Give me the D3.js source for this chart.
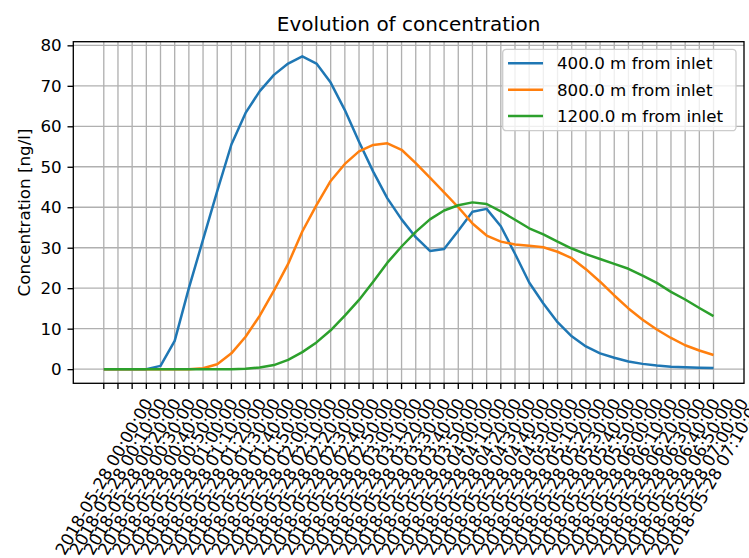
<!DOCTYPE html>
<html>
<head>
<meta charset="utf-8">
<script src="https://cdn.jsdelivr.net/npm/d3@7"></script>
<style>
  body { margin: 0; background: #fff; }
  svg { display: block; font-family: "DejaVu Sans", sans-serif; }
</style>
</head>
<body>
<div id="chart"></div>
<script>
const day = "2018-05-28";
const times = [
  "00:00", "00:10", "00:20", "00:30", "00:40", "00:50",
  "01:00", "01:10", "01:20", "01:30", "01:40", "01:50",
  "02:00", "02:10", "02:20", "02:30", "02:40", "02:50",
  "03:00", "03:10", "03:20", "03:30", "03:40", "03:50",
  "04:00", "04:10", "04:20", "04:30", "04:40", "04:50",
  "05:00", "05:10", "05:20", "05:30", "05:40", "05:50",
  "06:00", "06:10", "06:20", "06:30", "06:40", "06:50",
  "07:00", "07:10"
];

const at400 = [
  0, 0, 0, 0, 0.8, 7, 20, 32, 44, 55.5,
  63.3, 68.7, 72.7, 75.5, 77.3, 75.5, 70.8, 64, 56.2, 48.8,
  42.2, 37, 32.6, 29.2, 29.7, 34.2, 38.9, 39.6, 35.3, 28.5,
  21.4, 16.2, 11.6, 8.1, 5.6, 3.9, 2.8, 1.9, 1.3, 0.9,
  0.6, 0.45, 0.35, 0.3
];
const at800 = [
  0, 0, 0, 0, 0, 0, 0, 0.2, 1.2, 3.9,
  8, 13.2, 19.4, 26, 34, 40.5, 46.5, 50.7, 53.8, 55.4,
  55.8, 54.2, 50.9, 47.3, 43.7, 40, 36, 33, 31.5, 30.8,
  30.5, 30.1, 29, 27.4, 24.7, 21.6, 18.2, 15, 12.2, 9.8,
  7.7, 5.9, 4.6, 3.5
];
const at1200 = [
  0, 0, 0, 0, 0, 0, 0, 0, 0, 0,
  0.1, 0.4, 1.0, 2.3, 4.2, 6.6, 9.6, 13.2, 17.1, 21.6,
  26.3, 30.3, 33.9, 37, 39.2, 40.5, 41.2, 40.8, 39, 36.9,
  34.8, 33.3, 31.5, 29.8, 28.4, 27.2, 26, 24.8, 23.1, 21.3,
  19.1, 17.2, 15.1, 13.1
];

const seriesNames = ["400.0 m from inlet", "800.0 m from inlet", "1200.0 m from inlet"];
const seriesColors = ["#1f77b4", "#ff7f0e", "#2ca02c"];
const yTicks = [0, 10, 20, 30, 40, 50, 60, 70, 80];

const width = 749, height = 558;
const margin = { top: 41.7, right: 5, bottom: 174.7, left: 73.3 };
const plotW = width - margin.left - margin.right;
const plotH = height - margin.top - margin.bottom;
const fs = 16.7;

const parse = d3.utcParse("%Y-%m-%d %H:%M");
const fmt = d3.utcFormat("%Y-%m-%d %H:%M:%S");
const dates = times.map(t => parse(day + " " + t));

const series = [at400, at800, at1200].map((vals, k) => ({
  name: seriesNames[k],
  color: seriesColors[k],
  values: vals.map((v, i) => ({ date: dates[i], value: v }))
}));

// matplotlib style 5% margins on x
const t0 = +dates[0], t1 = +dates[dates.length - 1];
const pad = 0.05 * (t1 - t0);
const x = d3.scaleUtc()
  .domain([new Date(t0 - pad), new Date(t1 + pad)])
  .range([0, plotW]);

const y = d3.scaleLinear()
  .domain([-3.5, 80.9])
  .range([plotH, 0]);

const svg = d3.select("#chart")
  .append("svg")
  .attr("width", width)
  .attr("height", height);

const g = svg.append("g")
  .attr("transform", "translate(" + margin.left + "," + margin.top + ")");

// grid
g.append("g")
  .selectAll("line")
  .data(dates)
  .join("line")
  .attr("x1", d => x(d)).attr("x2", d => x(d))
  .attr("y1", 0).attr("y2", plotH)
  .attr("stroke", "#b0b0b0")
  .attr("stroke-width", 1.33);

g.append("g")
  .selectAll("line")
  .data(yTicks)
  .join("line")
  .attr("x1", 0).attr("x2", plotW)
  .attr("y1", d => y(d)).attr("y2", d => y(d))
  .attr("stroke", "#b0b0b0")
  .attr("stroke-width", 1.33);

// lines
const line = d3.line()
  .x(d => x(d.date))
  .y(d => y(d.value));

g.append("g")
  .selectAll("path")
  .data(series)
  .join("path")
  .attr("d", d => line(d.values))
  .attr("fill", "none")
  .attr("stroke", d => d.color)
  .attr("stroke-width", 2.5)
  .attr("stroke-linejoin", "round")
  .attr("stroke-linecap", "butt");

// spines
g.append("rect")
  .attr("width", plotW)
  .attr("height", plotH)
  .attr("fill", "none")
  .attr("stroke", "#000")
  .attr("stroke-width", 1.33);

// y axis
const yAxis = g.append("g")
  .call(d3.axisLeft(y).tickValues(yTicks).tickSize(5.8).tickPadding(5.8));
yAxis.select(".domain").remove();
yAxis.selectAll(".tick line").attr("stroke", "#000").attr("stroke-width", 1.33);
yAxis.selectAll(".tick text")
  .attr("font-size", fs)
  .attr("font-family", "DejaVu Sans")
  .attr("fill", "#000");

// x axis ticks
const xAxis = g.append("g")
  .attr("transform", "translate(0," + plotH + ")");
xAxis.selectAll("line")
  .data(dates)
  .join("line")
  .attr("x1", d => x(d)).attr("x2", d => x(d))
  .attr("y1", 0).attr("y2", 5.8)
  .attr("stroke", "#000")
  .attr("stroke-width", 1.33);

// rotated labels: bbox centred on tick, top just below tick
const ang = 60 * Math.PI / 180;
const lineH = 1.16 * fs;
xAxis.selectAll("text")
  .data(dates)
  .join("text")
  .attr("font-size", fs)
  .attr("text-anchor", "middle")
  .attr("dominant-baseline", "central")
  .attr("fill", "#000")
  .text(d => fmt(d))
  .each(function(d) {
    const L = this.getComputedTextLength();
    const H = L * Math.sin(ang) + lineH * Math.cos(ang);
    const cy = 11.6 + H / 2;
    d3.select(this).attr("transform",
      "translate(" + x(d) + "," + cy + ") rotate(-60)");
  });

// title and y label
svg.append("text")
  .attr("x", margin.left + plotW / 2)
  .attr("y", 31)
  .attr("text-anchor", "middle")
  .attr("font-size", 20)
  .text("Evolution of concentration");

svg.append("text")
  .attr("transform", "translate(30," + (margin.top + plotH / 2) + ") rotate(-90)")
  .attr("text-anchor", "middle")
  .attr("font-size", fs)
  .text("Concentration [ng/l]");

// legend
const legend = svg.append("g")
  .attr("transform", "translate(502.7,49.3)");
legend.append("rect")
  .attr("width", 233.3)
  .attr("height", 81.4)
  .attr("rx", 3.5)
  .attr("fill", "#fff")
  .attr("fill-opacity", 0.8)
  .attr("stroke", "#cccccc")
  .attr("stroke-width", 1.33);

const rows = legend.selectAll("g.row")
  .data(series)
  .join("g")
  .attr("class", "row")
  .attr("transform", (d, i) => "translate(0," + (14 + i * 26.4) + ")");
rows.append("line")
  .attr("x1", 5.3).attr("x2", 40.3)
  .attr("stroke", d => d.color)
  .attr("stroke-width", 2.5);
rows.append("text")
  .attr("x", 54.3)
  .attr("dominant-baseline", "central")
  .attr("font-size", fs)
  .text(d => d.name);
</script>
</body>
</html>
